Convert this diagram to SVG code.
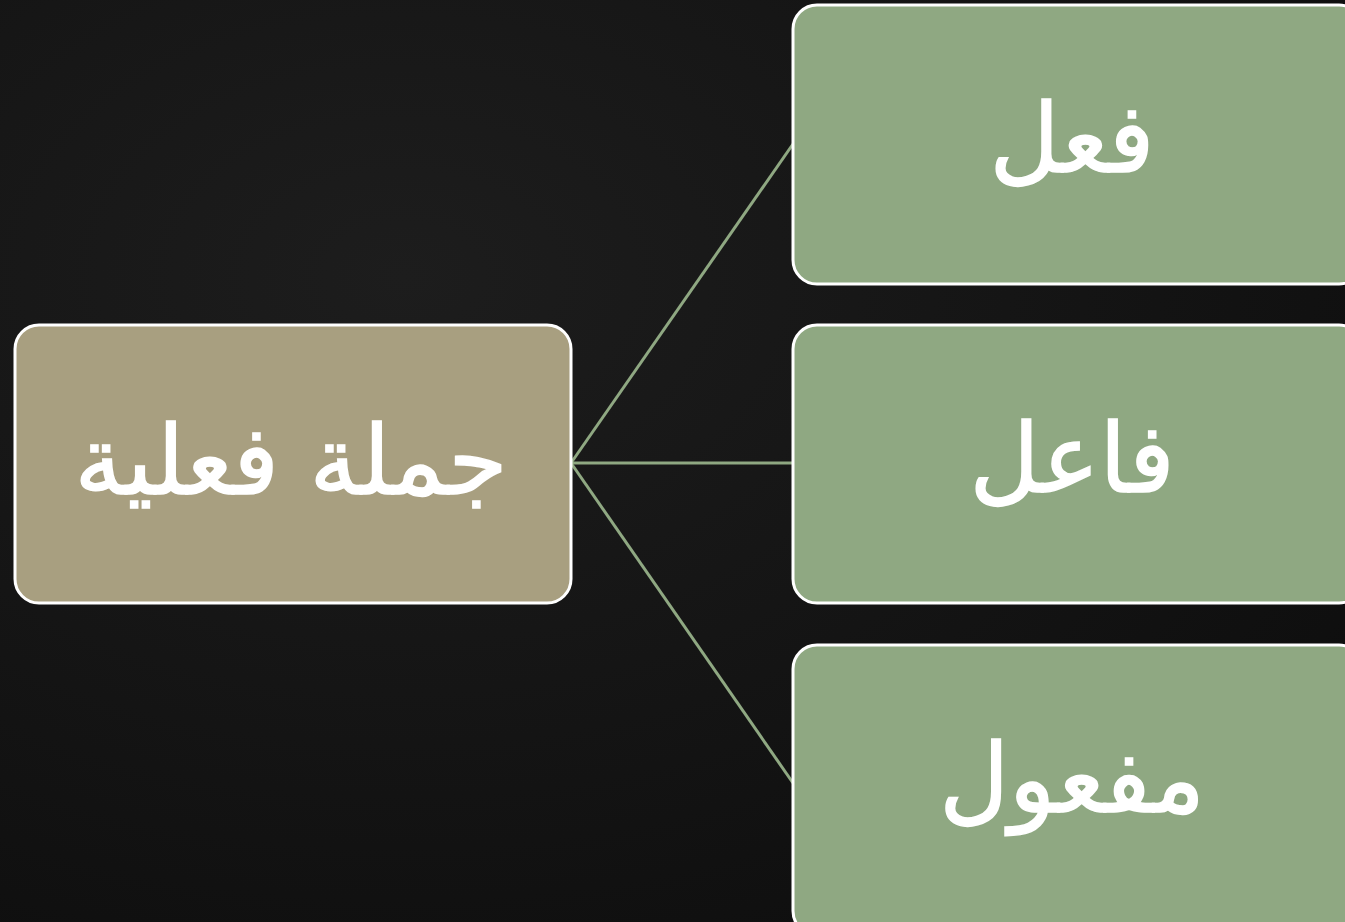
<svg xmlns="http://www.w3.org/2000/svg" width="1345" height="922" viewBox="0 0 1345 922">
  <defs>
    <radialGradient id="bg" cx="0.3" cy="0.3" r="0.9">
      <stop offset="0" stop-color="#1d1d1d"/>
      <stop offset="1" stop-color="#0d0d0d"/>
    </radialGradient>
  </defs>
  <style>
    .box { stroke: #ffffff; stroke-width: 3; }
    .parent { fill: #A89F80; }
    .child { fill: #8FA882; }
    .lbl { fill: #ffffff; stroke: #ffffff; stroke-width: 1.5; font-family: "DejaVu Sans", sans-serif; font-size: 96px; text-anchor: middle; direction: rtl; }
    .conn { stroke: #8FA882; stroke-width: 3; fill: none; }
  </style>
  <rect x="0" y="0" width="1345" height="922" fill="url(#bg)"/>
  <g id="connectors">
    <line class="conn" x1="571" y1="463" x2="793" y2="144"/>
    <line class="conn" x1="571" y1="463" x2="793" y2="463"/>
    <line class="conn" x1="571" y1="463" x2="793" y2="783"/>
  </g>
  <g id="node-root">
    <rect class="box parent" x="15" y="325" width="556" height="278" rx="24"/>
    <text class="lbl" x="291" y="494">جملة فعلية</text>
  </g>
  <g id="node-fi3l">
    <rect class="box child" x="793" y="5" width="570" height="279" rx="24"/>
    <text class="lbl" x="1072" y="172">فعل</text>
  </g>
  <g id="node-fa3il">
    <rect class="box child" x="793" y="325" width="570" height="278" rx="24"/>
    <text class="lbl" x="1072" y="492">فاعل</text>
  </g>
  <g id="node-maf3ul">
    <rect class="box child" x="793" y="645" width="570" height="290" rx="24"/>
    <text class="lbl" x="1072" y="812">مفعول</text>
  </g>
</svg>
